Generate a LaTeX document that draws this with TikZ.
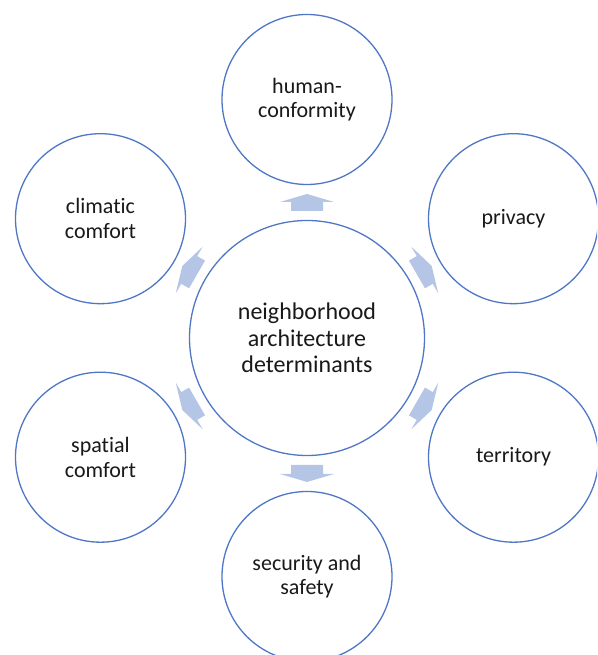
\documentclass[tikz,border=0pt]{standalone}
\usepackage{fontspec}
\setmainfont{Carlito}[Ligatures={NoCommon,NoContextual}]
\usetikzlibrary{positioning, calc}
\definecolor{RingColor}{RGB}{79,119,198}
\definecolor{ArrowColor}{RGB}{180,197,230}

\begin{document}
\begin{tikzpicture}[
    x=1pt, y=1pt,
    every node/.style={text=black!90, align=center},
    hub/.style={circle, draw=RingColor, line width=1.3pt, fill=white, minimum size=235pt, inner sep=0pt, font=\fontsize{24}{26.5}\selectfont},
    spoke/.style={circle, draw=RingColor, line width=1.3pt, fill=white, minimum size=170pt, inner sep=0pt, font=\fontsize{22}{24.5}\selectfont},
    blockarrow/.style={fill=ArrowColor},
]
\useasboundingbox (0,0) rectangle (597,655);
\clip (0,0) rectangle (597,655);

% Centre
\node[hub] (hub) at (307, 317) {neighborhood\\architecture\\determinants};

% Six determinants
\node[spoke] (human) at (307, 555.5) {human-\\conformity};
\node[spoke] (privacy) at (513.5, 436.3) {privacy};
\node[spoke] (territory) at (513.5, 197.8) {territory};
\node[spoke] (security) at (307, 78.5) {security and\\safety};
\node[spoke] (spatial) at (100.5, 197.8) {spatial\\comfort};
\node[spoke] (climatic) at (100.5, 436.3) {climatic\\comfort};

% Block arrows from the centre outwards
\foreach \name/\ang in {human/90, privacy/30, territory/-30, security/-90, spatial/-150, climatic/150} {
    \pgfmathsetmacro{\back}{\ang+180}
    \coordinate (m\name) at ($(hub.\ang)!0.5!(\name.\back)$);
    \fill[blockarrow, shift={(m\name)}, rotate=\ang-90]
        (-16,-8.5) -- (-16,0.5) -- (-27,0.5) -- (0,8.5) -- (27,0.5) -- (16,0.5) -- (16,-8.5) -- cycle;
}

\end{tikzpicture}
\end{document}
